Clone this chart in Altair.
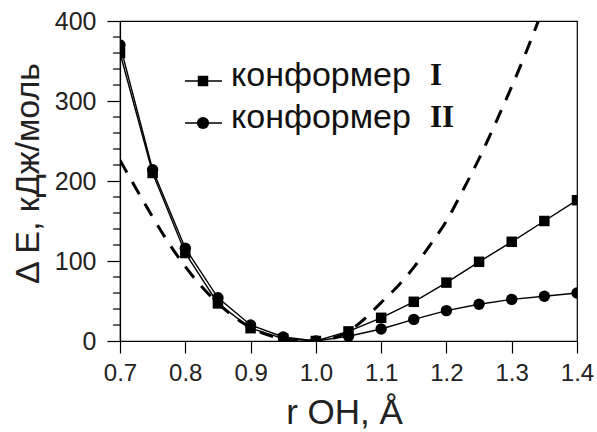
import altair as alt
import pandas as pd

# ---- data ----
r_pts = [0.70, 0.75, 0.80, 0.85, 0.90, 0.95, 1.00, 1.05, 1.10, 1.15, 1.20, 1.25, 1.30, 1.35, 1.40]
conf_I = [360, 210, 110, 47, 16, 3, 0, 12, 29, 49, 73, 99, 124, 150, 176]
conf_II = [370, 214, 116, 54, 20, 5, 0, 6, 15, 27, 38, 46, 52, 56, 60]

r_dash = [0.70, 0.725, 0.75, 0.775, 0.80, 0.825, 0.85, 0.875, 0.90, 0.925, 0.95, 0.975,
          1.00, 1.025, 1.05, 1.075, 1.10, 1.125, 1.15, 1.175, 1.20, 1.225, 1.25, 1.275,
          1.30, 1.325, 1.35]
e_dash = [226, 190, 155, 122, 93, 68, 47, 30, 17, 8, 2.5, 0.5,
          0, 3, 12, 28, 48, 68, 92, 120, 150, 188, 228, 272,
          318, 367, 420]

legend_names = ["конформер", "конформер"]
legend_roman = ["I", "II"]

x_ticks = [round(0.7 + 0.025 * i, 3) for i in range(29)]
y_major = [0, 100, 200, 300, 400]
y_minor = [v for v in range(20, 400, 20) if v % 100 != 0]

W, H = 457, 320
SANS = "Liberation Sans"
SERIF = "Liberation Serif"

df1 = pd.DataFrame({"r": r_pts, "E": conf_I})
df2 = pd.DataFrame({"r": r_pts, "E": conf_II})
dfd = pd.DataFrame({"r": r_dash, "E": e_dash})
dfy = pd.DataFrame({"E": y_minor})

xscale = alt.Scale(domain=[0.7, 1.4], nice=False, zero=False)
yscale = alt.Scale(domain=[0, 400], nice=False)

XMAJ = "abs(round(datum.value*10) - datum.value*10) < 0.001"

xaxis = alt.Axis(
    values=x_ticks,
    labelExpr=f"{XMAJ} ? format(datum.value, '.1f') : ''",
    tickSize={"condition": {"test": XMAJ, "value": 12}, "value": 8},
    labelFontSize=24, labelFont=SANS, labelColor="#222", labelPadding=8,
    labelOverlap=False, labelFlush=False,
    tickColor="black", tickWidth=1.2, domainColor="black", domainWidth=1.2,
    grid=False, title="r OH, Å", titleFont=SANS, titleFontSize=35,
    titleFontWeight="normal", titleColor="#222",
    titleX=224, titleY=82, titleBaseline="alphabetic", titleAnchor="middle",
)
yaxis = alt.Axis(
    values=y_major, format="d", tickSize=13,
    labelFontSize=25, labelFont=SANS, labelColor="#222", labelPadding=11,
    labelOverlap=False, labelFlush=False,
    tickColor="black", tickWidth=1.2, domainColor="black", domainWidth=1.2,
    grid=False, title="Δ E, кДж/моль", titleFont=SANS, titleFontSize=34,
    titleFontWeight="normal", titleColor="#222", titleAngle=-90,
    titleX=-82, titleY=152, titleBaseline="alphabetic", titleAnchor="middle",
)

dash = alt.Chart(dfd).mark_line(
    color="black", strokeWidth=3, strokeDash=[14, 11], clip=True, interpolate="monotone"
).encode(
    x=alt.X("r:Q", scale=xscale, axis=xaxis),
    y=alt.Y("E:Q", scale=yscale, axis=yaxis),
)

yminor = alt.Chart(dfy).mark_rule(color="black", strokeWidth=1.2).encode(
    x=alt.value(-7), x2=alt.value(0), y=alt.Y("E:Q", scale=yscale)
)

def series(df, shape, size):
    line = alt.Chart(df).mark_line(color="black", strokeWidth=1.4, clip=True).encode(
        x=alt.X("r:Q", scale=xscale), y=alt.Y("E:Q", scale=yscale)
    )
    pts = alt.Chart(df).mark_point(
        shape=shape, filled=True, color="black", size=size, opacity=1, clip=True
    ).encode(x=alt.X("r:Q", scale=xscale), y=alt.Y("E:Q", scale=yscale))
    return line + pts

s1 = series(df1, "square", 110)
s2 = series(df2, "circle", 130)

# ---- custom legend inside the plot ----
leg_df = pd.DataFrame({"name": legend_names, "roman": legend_roman, "row": [0, 1]})
row_y = [60, 102]
base_y = [65, 107]
leg_layers = []
shapes = ["square", "circle"]
sizes = [110, 150]
for i in range(2):
    sub = leg_df[leg_df.row == i]
    leg_layers.append(
        alt.Chart(sub).mark_rule(color="black", strokeWidth=1.4).encode(
            x=alt.value(65), x2=alt.value(102), y=alt.value(row_y[i])
        )
    )
    leg_layers.append(
        alt.Chart(sub).mark_point(shape=shapes[i], filled=True, color="black",
                                  size=sizes[i], opacity=1).encode(
            x=alt.value(83), y=alt.value(row_y[i])
        )
    )
    leg_layers.append(
        alt.Chart(sub).mark_text(font=SANS, fontSize=34, align="left", baseline="alphabetic",
                                 color="#111").encode(
            x=alt.value(111), y=alt.value(base_y[i]), text="name:N"
        )
    )
    leg_layers.append(
        alt.Chart(sub).mark_text(font=SERIF, fontSize=31, fontWeight="bold", align="left",
                                 baseline="alphabetic", color="#111").encode(
            x=alt.value(310), y=alt.value(base_y[i] - 1), text="roman:N"
        )
    )

chart = alt.layer(dash, yminor, s1, s2, *leg_layers).properties(
    width=W, height=H,
    autosize=alt.AutoSizeParams(type="none"),
    padding={"left": 120, "top": 21, "right": 20, "bottom": 91},
    background="white",
).configure_view(stroke="black", strokeWidth=1.2)

chart.save("out.html", embed_options={"renderer": "svg", "actions": False})
